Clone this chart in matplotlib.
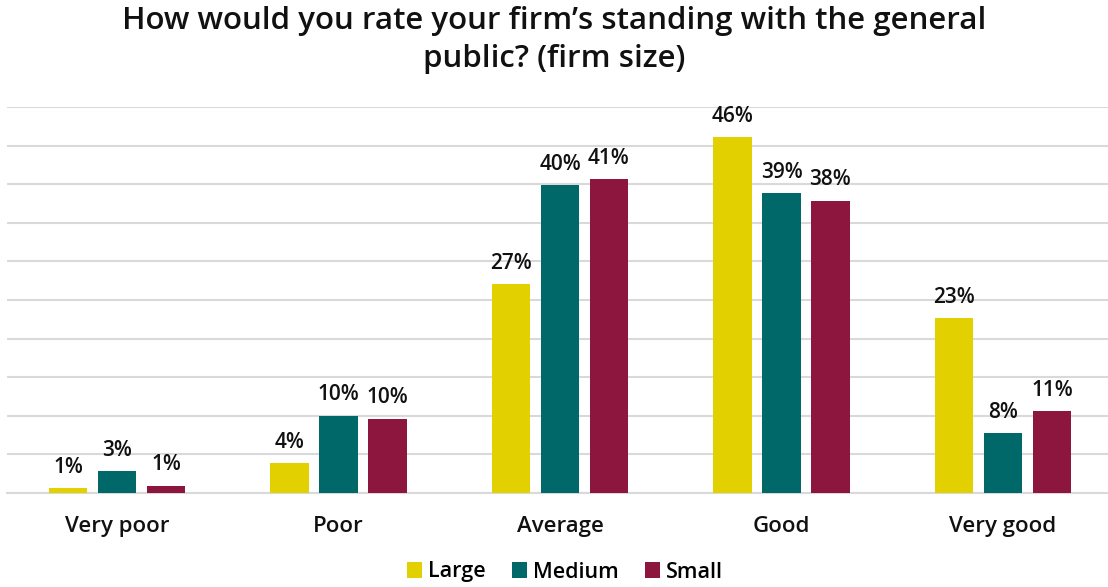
import matplotlib
matplotlib.use("Agg")
import matplotlib.pyplot as plt
import numpy as np

# Survey responses by firm size (% of respondents)
categories = ["Very poor", "Poor", "Average", "Good", "Very good"]
series_names = ["Large", "Medium", "Small"]
large = [0.6, 3.8, 27.1, 46.1, 22.6]
medium = [2.8, 10.0, 39.9, 38.9, 7.7]
small = [0.9, 9.6, 40.7, 37.9, 10.6]
colors = ["#E2D000", "#006869", "#8D163E"]
title = "How would you rate your firm’s standing with the general\npublic? (firm size)"

plt.rcParams["font.family"] = ["Open Sans", "DejaVu Sans"]

fig = plt.figure(figsize=(11.08, 5.87), dpi=100)
ax = fig.add_axes([7 / 1108, 1 - 492.7 / 587, (1108 - 7) / 1108, (492.7 - 107.3) / 587])

x = np.arange(len(categories))
step = 0.221
width = 0.174
for i, (vals, name, col) in enumerate(zip([large, medium, small], series_names, colors)):
    pos = x + (i - 1) * step
    bars = ax.bar(pos, vals, width=width, color=col, label=name, zorder=3)
    for b, v in zip(bars, vals):
        ax.annotate(f"{v:.0f}%", (b.get_x() + b.get_width() / 2, v),
                    xytext=(0, 11), textcoords="offset points",
                    ha="center", va="baseline", fontsize=15,
                    fontweight="semibold", color="#111111")

ax.set_xlim(-0.497, 4.474)
ax.set_ylim(0, 50)
ax.set_yticks(np.arange(0, 51, 5))
ax.yaxis.grid(True, color="#D9D9D9", linewidth=1.5, zorder=0)
ax.set_axisbelow(True)
ax.tick_params(axis="y", left=False, labelleft=False)
ax.tick_params(axis="x", bottom=False, labelsize=16, pad=13, colors="#111111")
ax.set_xticks(x)
ax.set_xticklabels(categories, fontweight="semibold")
for s in ["top", "right", "left"]:
    ax.spines[s].set_visible(False)
ax.spines["bottom"].set_color("#D9D9D9")
ax.spines["bottom"].set_linewidth(1.5)

fig.text(0.5, 1 - 40 / 587, title, ha="center", va="center", fontsize=22.5,
         fontweight="semibold", color="#111111", linespacing=1.35)

handles, labels = ax.get_legend_handles_labels()
fig.legend(handles, labels, loc="center", bbox_to_anchor=(0.51, 1 - 572 / 587),
           ncol=3, frameon=False, prop={"size": 15.5, "weight": "semibold"},
           handlelength=0.7, handleheight=0.7,
           handletextpad=0.3, columnspacing=1.2)

fig.savefig("out.png", dpi=100)
